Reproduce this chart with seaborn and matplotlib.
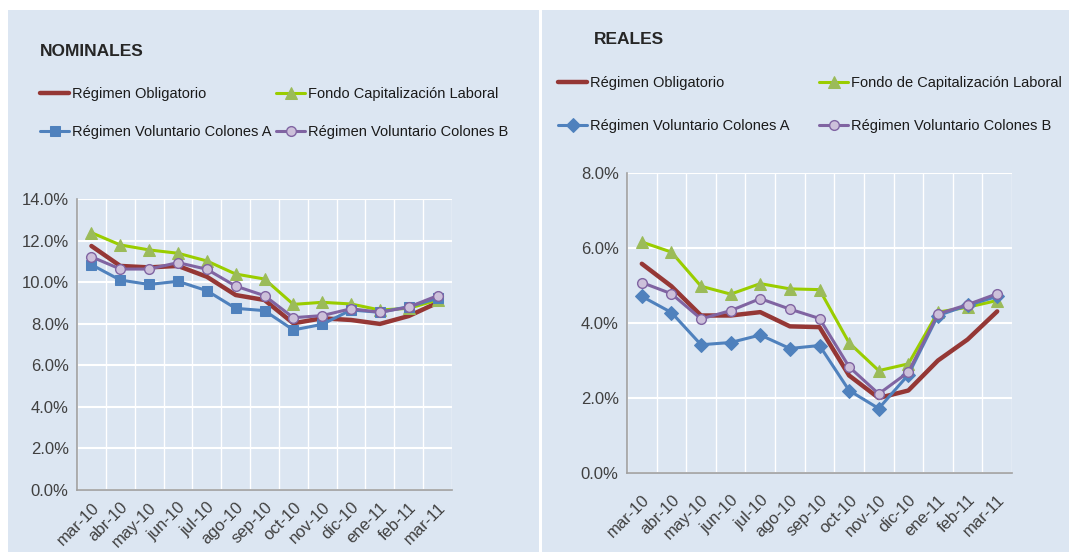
import numpy as np
import pandas as pd
import matplotlib
matplotlib.use("Agg")
import matplotlib.pyplot as plt
from matplotlib.patches import Rectangle
from matplotlib.ticker import PercentFormatter, FixedLocator
import seaborn as sns

meses = ["mar-10", "abr-10", "may-10", "jun-10", "jul-10", "ago-10", "sep-10",
         "oct-10", "nov-10", "dic-10", "ene-11", "feb-11", "mar-11"]

# rendimientos nominales (%)
nom_obligatorio = [11.74, 10.78, 10.71, 10.78, 10.26, 9.38, 9.14, 8.02, 8.26, 8.18, 7.99, 8.37, 9.01]
nom_fcl = [12.38, 11.79, 11.55, 11.39, 11.02, 10.39, 10.15, 8.93, 9.03, 8.95, 8.66, 8.74, 9.14]
nom_vol_a = [10.84, 10.10, 9.89, 10.04, 9.59, 8.74, 8.63, 7.70, 7.97, 8.66, 8.55, 8.82, 9.22]
nom_vol_b = [11.22, 10.63, 10.63, 10.94, 10.62, 9.81, 9.35, 8.29, 8.39, 8.72, 8.55, 8.80, 9.35]

# rendimientos reales (%)
real_obligatorio = [5.58, 4.98, 4.20, 4.20, 4.29, 3.91, 3.89, 2.60, 2.00, 2.20, 3.00, 3.56, 4.31]
real_fcl = [6.16, 5.89, 4.98, 4.77, 5.05, 4.91, 4.89, 3.47, 2.73, 2.91, 4.29, 4.42, 4.60]
real_vol_a = [4.71, 4.28, 3.42, 3.48, 3.68, 3.32, 3.40, 2.20, 1.72, 2.62, 4.20, 4.47, 4.71]
real_vol_b = [5.08, 4.78, 4.11, 4.33, 4.65, 4.37, 4.12, 2.83, 2.11, 2.69, 4.24, 4.49, 4.78]

ROJO = "#953735"
VERDE_LINEA = "#9ACD00"
VERDE_MARC = "#9BBB59"
AZUL = "#4F81BD"
MORADO = "#8064A2"
MORADO_CLARO = "#CCC0DA"
FONDO = "#DCE6F2"
TEXTO = "#404040"

sns.set_style("white")
plt.rcParams["font.family"] = ["Liberation Sans", "DejaVu Sans"]

fig = plt.figure(figsize=(10.69, 5.52), dpi=100)
fig.patch.set_facecolor("white")
W, H = 1069, 552
fig.patches.append(Rectangle((8 / W, 0), 531 / W, 1 - 10 / H, transform=fig.transFigure,
                             facecolor=FONDO, edgecolor="none", zorder=-10))
fig.patches.append(Rectangle((542 / W, 0), 1, 1 - 10 / H, transform=fig.transFigure,
                             facecolor=FONDO, edgecolor="none", zorder=-10))


def panel(rect, series, ymax, marcador_a, ticks_x, pad_x):
    ax = fig.add_axes(rect)
    ax.set_zorder(1)
    ax.set_facecolor("none")
    x = np.arange(len(meses))
    ob, fcl, va, vb = series
    sns.lineplot(x=x, y=ob, ax=ax, color=ROJO, linewidth=3.2, label="Régimen Obligatorio")
    sns.lineplot(x=x, y=fcl, ax=ax, color=VERDE_LINEA, linewidth=2.2, marker="^",
                 markersize=9, markerfacecolor=VERDE_MARC, markeredgecolor=VERDE_MARC,
                 label="Fondo Capitalización Laboral")
    sns.lineplot(x=x, y=va, ax=ax, color=AZUL, linewidth=2.2, marker=marcador_a,
                 markersize=7, markerfacecolor=AZUL, markeredgecolor=AZUL,
                 label="Régimen Voluntario Colones A")
    sns.lineplot(x=x, y=vb, ax=ax, color=MORADO, linewidth=2.2, marker="o",
                 markersize=7, markerfacecolor=MORADO_CLARO, markeredgecolor=MORADO,
                 markeredgewidth=1, label="Régimen Voluntario Colones B")
    ax.get_legend().remove()
    ax.set_xlim(-0.5, len(meses) - 0.5)
    ax.set_ylim(0, ymax)
    ax.set_xticks(x)
    ax.set_xticklabels(meses, rotation=45, ha="right", rotation_mode="anchor",
                       fontsize=12, color=TEXTO)
    ax.xaxis.set_minor_locator(FixedLocator(np.arange(-0.5, len(meses), 1.0)))
    ax.tick_params(axis="x", which="major", length=0, pad=pad_x)
    ax.tick_params(axis="x", which="minor", length=5 if ticks_x else 0, color="#A0A0A0",
                   direction="out")
    ax.set_yticks(np.arange(0, ymax + 0.01, 2))
    ax.yaxis.set_major_formatter(PercentFormatter(decimals=1))
    ax.tick_params(axis="y", labelsize=12, labelcolor=TEXTO, length=0, pad=6)
    ax.grid(axis="y", which="major", color="white", linewidth=1.5)
    ax.grid(axis="x", which="minor", color="white", linewidth=1.0)
    ax.set_axisbelow(True)
    for lado in ["top", "right"]:
        ax.spines[lado].set_visible(False)
    for lado in ["left", "bottom"]:
        ax.spines[lado].set_color("#A0A0A0")
        ax.spines[lado].set_linewidth(1.2)
    ax.set_xlabel("")
    ax.set_ylabel("")
    return ax


ax1 = panel([77 / W, 1 - 490 / H, 375 / W, 291 / H],
            (nom_obligatorio, nom_fcl, nom_vol_a, nom_vol_b), 14, "s", True, 7)
ax2 = panel([627 / W, 1 - 473 / H, 385 / W, 300 / H],
            (real_obligatorio, real_fcl, real_vol_a, real_vol_b), 8, "D", False, 14)

fig.text(40 / W, 1 - 51 / H, "NOMINALES", fontsize=12.5, fontweight="bold",
         color="#262626", va="center")
fig.text(594 / W, 1 - 40 / H, "REALES", fontsize=12.5, fontweight="bold",
         color="#262626", va="center")

h1, l1 = ax1.get_legend_handles_labels()
orden = [0, 2, 1, 3]
fig.legend([h1[i] for i in orden], [l1[i] for i in orden], ncol=2, frameon=False,
           loc="upper left", bbox_to_anchor=(33 / W, 1 - 80 / H), fontsize=10.5,
           handlelength=2.0, handletextpad=0.2, columnspacing=0.3, labelspacing=1.63,
           borderpad=0, labelcolor="#1a1a1a")

h2, l2 = ax2.get_legend_handles_labels()
l2[1] = "Fondo de Capitalización Laboral"
fig.legend([h2[i] for i in orden], [l2[i] for i in orden], ncol=2, frameon=False,
           loc="upper left", bbox_to_anchor=(551 / W, 1 - 69 / H), fontsize=10.5,
           handlelength=2.0, handletextpad=0.2, columnspacing=2.0, labelspacing=1.96,
           borderpad=0, labelcolor="#1a1a1a")

fig.savefig("out.png", dpi=100)
